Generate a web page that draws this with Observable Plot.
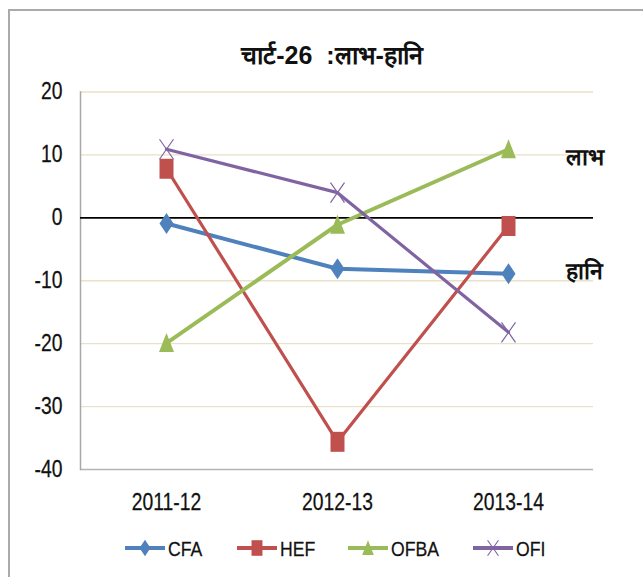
<!DOCTYPE html>
<html><head><meta charset="utf-8">
<script src="https://cdn.jsdelivr.net/npm/d3@7"></script>
<script src="https://cdn.jsdelivr.net/npm/@observablehq/plot@0.6"></script>
<style>
body{margin:0;background:#fff;}
#wrap{position:relative;width:643px;height:577px;overflow:hidden;font-family:"Liberation Sans",sans-serif;background:#fff;}
#border{position:absolute;left:8px;top:9px;width:800px;height:800px;border-left:2px solid #aaa;border-top:2px solid #aaa;}
#title{position:absolute;left:0;width:664px;top:43px;line-height:1;text-align:center;font-size:25px;font-weight:bold;color:#111;}
#chart{position:absolute;left:0;top:80px;}
#legend{position:absolute;left:0;top:528px;}
</style></head>
<body>
<div id="wrap">
  <div id="border"></div>
  <div id="title">चार्ट-26 &nbsp;:लाभ-हानि</div>
  <div id="chart"></div>
  <svg id="legend" width="643" height="40"></svg>
</div>
<script>
const periods = ["2011-12", "2012-13", "2013-14"];
const seriesNames = ["CFA", "HEF", "OFBA", "OFI"];
const CFA = [-0.9, -8.1, -8.9];
const HEF = [7.8, -35.6, -1.3];
const OFBA = [-19.9, -1.1, 10.9];
const OFI = [10.9, 4.0, -18.2];
const yTicks = [20, 10, 0, -10, -20, -30, -40];
const sideLabels = ["लाभ", "हानि"];
const sideLabelValues = [9.5, -8.5];

const colors = ["#4F81BD", "#C0504D", "#9BBB59", "#8064A2"];
const widths = [4, 3.2, 4, 3.2];
const FONT = '"Liberation Sans",sans-serif';
const NARROW = 0.84;

const symbols = [
  {draw(c){c.moveTo(0,-10.5);c.lineTo(7,0);c.lineTo(0,10.5);c.lineTo(-7,0);c.closePath();}},
  {draw(c){c.rect(-7,-10,14,20);}},
  {draw(c){c.moveTo(0,-10);c.lineTo(7.5,9);c.lineTo(-7.5,9);c.closePath();}},
  {draw(c){c.moveTo(-7,-10);c.lineTo(7,10);c.moveTo(7,-10);c.lineTo(-7,10);}}
];

const valuesBySeries = [CFA, HEF, OFBA, OFI];
const tables = valuesBySeries.map((vals, i) =>
  periods.map((p, j) => ({period: p, value: vals[j], series: seriesNames[i]})));
const sideTable = sideLabels.map((t, i) => ({text: t, value: sideLabelValues[i]}));

const seriesMarks = tables.flatMap((tbl, i) => [
  Plot.line(tbl, {x: "period", y: "value", stroke: colors[i], strokeWidth: widths[i]}),
  Plot.dot(tbl, i === 3
    ? {x: "period", y: "value", symbol: symbols[i], r: 1, fill: "none", stroke: colors[i], strokeWidth: 1.2}
    : {x: "period", y: "value", symbol: symbols[i], r: 1, fill: colors[i], stroke: "none"})
]);

const chart = Plot.plot({
  width: 643, height: 435,
  marginLeft: 80, marginRight: 50, marginTop: 11.5, marginBottom: 46,
  x: {type: "point", domain: periods, padding: 0.5},
  y: {domain: [-40, 20]},
  style: {fontFamily: FONT, fontSize: "23px", color: "#111", background: "transparent"},
  marks: [
    Plot.ruleY(yTicks.filter(d => d !== 0 && d !== -40), {stroke: "#e8e2c8", strokeWidth: 1.3}),
    Plot.ruleY([-40], {stroke: "#b4b4b4", strokeWidth: 1.5}),
    Plot.frame({anchor: "left", stroke: "#a8a8a8", strokeWidth: 1.5}),
    Plot.ruleY([0], {stroke: "#000", strokeWidth: 1.6}),
    Plot.axisY({ticks: yTicks, tickSize: 0, tickPadding: 18, fontSize: 23, label: null, tickFormat: d => String(d)}),
    Plot.axisX({tickSize: 0, tickPadding: 24, fontSize: 23, label: null}),
    ...seriesMarks,
    Plot.text(sideTable, {x: () => periods[2], y: "value", text: "text", dx: 57, textAnchor: "start",
      fontSize: 23, fontWeight: "bold", fill: "#111"})
  ]
});
document.getElementById("chart").appendChild(chart);

// condense axis tick labels to mimic the narrow font of the original
d3.select(chart).selectAll('g[aria-label="y-axis tick label"] text, g[aria-label="x-axis tick label"] text')
  .each(function() {
    const t = this.getAttribute("transform");
    if (t) {
      this.setAttribute("transform", t + ` scale(${NARROW},1)`);
    } else {
      const x = +this.getAttribute("x") || 0, y = +this.getAttribute("y") || 0;
      this.setAttribute("x", 0); this.setAttribute("y", 0);
      this.setAttribute("transform", `translate(${x},${y}) scale(${NARROW},1)`);
    }
  })
  .attr("stroke", "#111").attr("stroke-width", 0.25);

// legend
const legendStart = [125, 237, 348, 473];
const lg = d3.select("#legend");
seriesNames.forEach((name, i) => {
  const g = lg.append("g").attr("transform", `translate(${legendStart[i]},20)`);
  g.append("line").attr("x1", 0).attr("x2", 40).attr("y1", 0).attr("y2", 0)
    .attr("stroke", colors[i]).attr("stroke-width", 4);
  const p = d3.path();
  symbols[i].draw(p);
  g.append("path").attr("d", p.toString())
    .attr("transform", "translate(20,0) scale(0.78)")
    .attr("fill", i === 3 ? "none" : colors[i])
    .attr("stroke", i === 3 ? colors[i] : "none")
    .attr("stroke-width", 1.4);
  g.append("text").attr("transform", `translate(43,8) scale(${NARROW},1)`).text(name)
    .attr("font-family", FONT).attr("font-size", 21).attr("fill", "#111")
    .attr("stroke", "#111").attr("stroke-width", 0.25);
});
</script>
</body></html>
